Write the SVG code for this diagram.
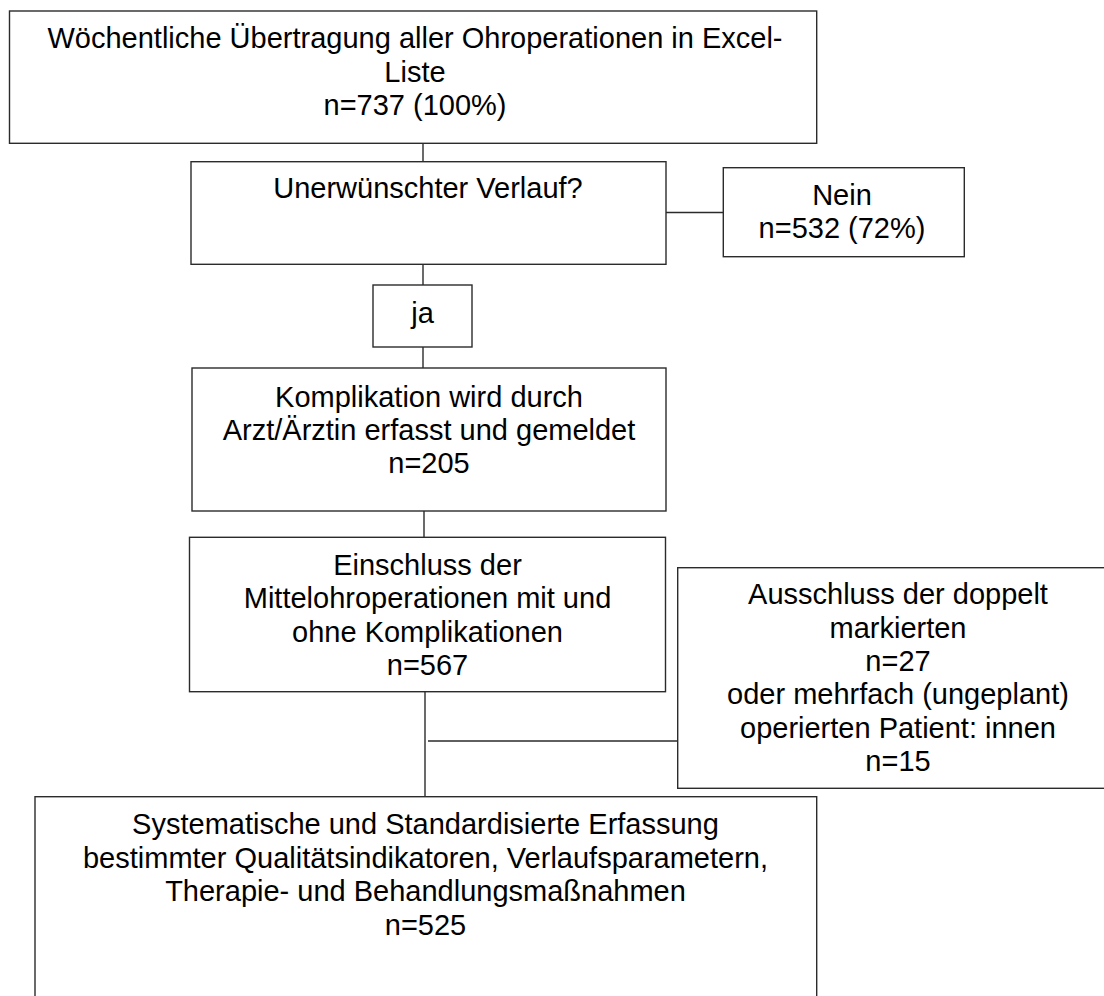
<svg xmlns="http://www.w3.org/2000/svg" width="1104" height="996" viewBox="0 0 1104 996">
  <style>
    .box { fill: #ffffff; stroke: #2b2b2b; stroke-width: 1.4; }
    .conn { stroke: #2b2b2b; stroke-width: 1.4; fill: none; }
    text { font-family: "Liberation Sans", Arial, sans-serif; font-size: 29px; fill: #000000; text-anchor: middle; }
  </style>
  <rect width="1104" height="996" fill="#ffffff"/>
  <g id="connectors">
    <line class="conn" x1="423" y1="143.3" x2="423" y2="161.7"/>
    <line class="conn" x1="666" y1="212.5" x2="723.3" y2="212.5"/>
    <line class="conn" x1="423" y1="264.3" x2="423" y2="285"/>
    <line class="conn" x1="423" y1="347" x2="423" y2="368"/>
    <line class="conn" x1="424" y1="511" x2="424" y2="537.3"/>
    <line class="conn" x1="425" y1="691.7" x2="425" y2="796.7"/>
    <line class="conn" x1="428" y1="741" x2="677.7" y2="741"/>
  </g>
  <g id="node-uebertragung">
    <rect class="box" x="9.5" y="11" width="807.2" height="132.3"/>
    <text x="415" y="48">Wöchentliche Übertragung aller Ohroperationen in Excel-</text>
    <text x="415" y="81.5">Liste</text>
    <text x="415" y="115">n=737 (100%)</text>
  </g>
  <g id="node-verlauf">
    <rect class="box" x="191" y="161.7" width="475" height="102.6"/>
    <text x="428" y="198">Unerwünschter Verlauf?</text>
  </g>
  <g id="node-nein">
    <rect class="box" x="723.3" y="167.7" width="241" height="89"/>
    <text x="842" y="205">Nein</text>
    <text x="842" y="238">n=532 (72%)</text>
  </g>
  <g id="node-ja">
    <rect class="box" x="373" y="285" width="99" height="62"/>
    <text x="422.5" y="323">ja</text>
  </g>
  <g id="node-komplikation">
    <rect class="box" x="192" y="368" width="474" height="143"/>
    <text x="429" y="406.5">Komplikation wird durch</text>
    <text x="429" y="440">Arzt/Ärztin erfasst und gemeldet</text>
    <text x="429" y="473">n=205</text>
  </g>
  <g id="node-einschluss">
    <rect class="box" x="189.5" y="537.3" width="476" height="154.4"/>
    <text x="427.5" y="575">Einschluss der</text>
    <text x="427.5" y="608.3">Mittelohroperationen mit und</text>
    <text x="427.5" y="641.7">ohne Komplikationen</text>
    <text x="427.5" y="675">n=567</text>
  </g>
  <g id="node-ausschluss">
    <rect class="box" x="677.7" y="567.7" width="440" height="220.6"/>
    <text x="898" y="604.3">Ausschluss der doppelt</text>
    <text x="898" y="637.7">markierten</text>
    <text x="898" y="671">n=27</text>
    <text x="898" y="704.3">oder mehrfach (ungeplant)</text>
    <text x="898" y="737.7">operierten Patient: innen</text>
    <text x="898" y="771">n=15</text>
  </g>
  <g id="node-erfassung">
    <rect class="box" x="35" y="796.7" width="781.7" height="220"/>
    <text x="425.5" y="834">Systematische und Standardisierte Erfassung</text>
    <text x="425.5" y="867.5">bestimmter Qualitätsindikatoren, Verlaufsparametern,</text>
    <text x="425.5" y="901">Therapie- und Behandlungsmaßnahmen</text>
    <text x="425.5" y="934.5">n=525</text>
  </g>
</svg>
